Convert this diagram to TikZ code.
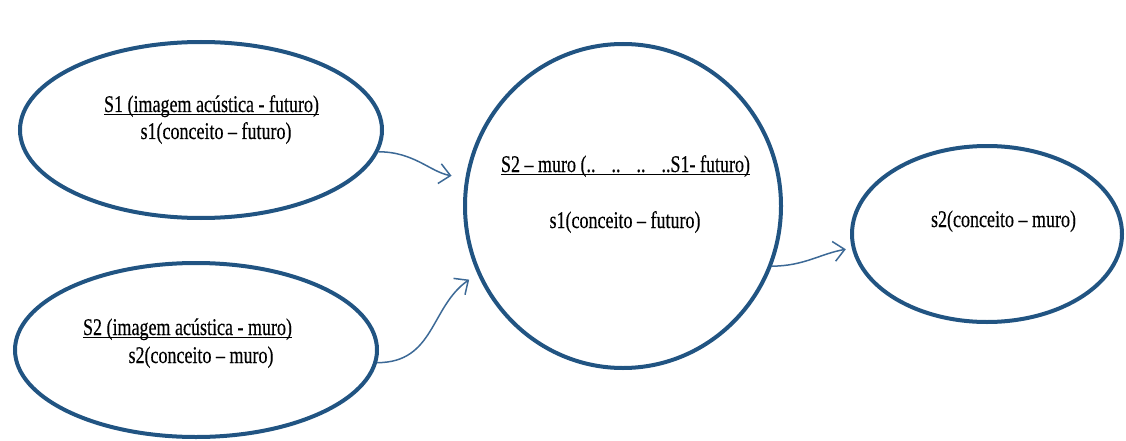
\documentclass[tikz,border=0pt]{standalone}
\usepackage{fontspec}
\setmainfont{Liberation Serif}[BoldFont=Liberation Serif, BoldFeatures={FakeBold=0.35}]
\newcommand{\myul}[1]{\setbox0\hbox{#1}\leavevmode\rlap{\rule[-2.6pt]{\wd0}{0.85pt}}\box0}
\newcommand{\tall}[1]{\scalebox{1}[1.33]{#1}}
\usetikzlibrary{shapes.geometric,arrows.meta}
\definecolor{bord}{RGB}{33,84,130}
\definecolor{arr}{RGB}{60,105,150}
\begin{document}
\begin{tikzpicture}[x=1pt,y=-1pt,
  shp/.style={draw=bord, line width=4pt, ellipse, inner sep=0pt},
  txt/.style={font=\fontsize{18pt}{22pt}\selectfont\bfseries, inner sep=0pt, anchor=base, text=black},
  conn/.style={draw=arr, line width=1.5pt, -{Straight Barb[length=11pt,width=20pt,line width=1.5pt]}}]
\useasboundingbox (0,0) rectangle (1126,441);
\node[shp, minimum width=362pt, minimum height=176pt] (e1) at (201,130) {};
\node[shp, minimum width=362pt, minimum height=174pt] (e2) at (196,350) {};
\node[shp, minimum width=316pt, minimum height=324pt] (c) at (623,206) {};
\node[shp, minimum width=270pt, minimum height=176pt] (r) at (987,234) {};
% texts
\node[txt] (e1a) at (211.5,112) {\tall{\myul{S1 (imagem acústica - futuro)}}};
\node[txt] (e1b) at (216,139) {\tall{s1(conceito – futuro)}};
\node[txt] (e2a) at (187.5,335) {\tall{\myul{S2 (imagem acústica - muro)}}};
\node[txt] (e2b) at (201,363) {\tall{s2(conceito – muro)}};
\node[txt] (ca) at (625.5,172) {\tall{\myul{S2 – muro (..\hspace{16pt}..\hspace{16pt}..\hspace{16pt}..S1- futuro)}}};
\node[txt] (cb) at (625,228) {\tall{s1(conceito – futuro)}};
\node[txt] (ra) at (1003.5,227) {\tall{s2(conceito – muro)}};
% connectors
\draw[conn, shorten >=14pt] (e1.-7) to[out=0,in=170] (c.170);
\draw[conn, shorten >=10pt] (e2.-4) to[out=0,in=215,looseness=1.1] (c.205);
\draw[conn, shorten >=6pt] (c.-22.5) to[out=0,in=190] (r.186);
\end{tikzpicture}
\end{document}
